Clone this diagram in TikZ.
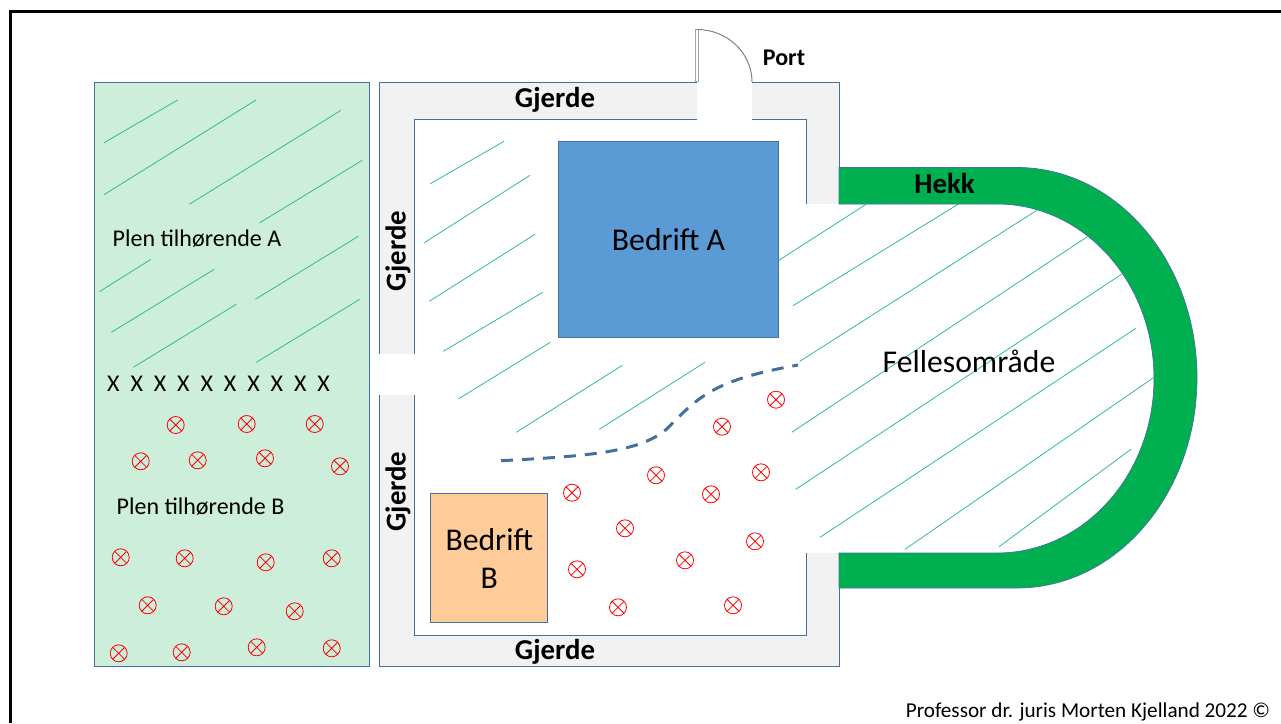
\documentclass[tikz,border=0pt]{standalone}
\usepackage{fontspec}
\setmainfont{Carlito}

\definecolor{kant}{HTML}{41719C}
\definecolor{plenfarge}{HTML}{CCEEDB}
\definecolor{gjerdefarge}{HTML}{F2F2F2}
\definecolor{hekkfarge}{HTML}{00B050}
\definecolor{bygga}{HTML}{5B9BD5}
\definecolor{byggb}{HTML}{FFCC99}
\definecolor{strek}{HTML}{2FC178}

\begin{document}
\begin{tikzpicture}
  [x=1pt,y=-1pt,
   stor/.style={font=\fontsize{31.7}{38}\selectfont,text=black,inner sep=0},
   liten/.style={font=\fontsize{24}{29}\selectfont,text=black,inner sep=0},
   fet/.style={font=\fontsize{28.8}{34}\selectfont\bfseries,text=black,inner sep=0},
   bygg/.style={stor,draw=kant,line width=.9pt,align=center},
   plen/.style={strek,line width=.8pt},
   tre/.style={circle,draw=red,line width=.8pt,minimum size=17pt,inner sep=0,
     path picture={\draw[red,line width=.8pt]
       (path picture bounding box.north west) -- (path picture bounding box.south east)
       (path picture bounding box.north east) -- (path picture bounding box.south west);}}]
  \useasboundingbox (0,0) rectangle (1281,723);

  % ramme
  \draw[black,line width=3pt] (1281,11.5) -- (10.5,11.5) -- (10.5,723);

  % plen
  \draw[kant,fill=plenfarge,line width=.9pt] (94.5,82.5) rectangle (369.5,666);

  % gjerde
  \draw[kant,fill=gjerdefarge,line width=.9pt] (379.5,82.5) rectangle (839,666.5);
  \draw[kant,fill=white,line width=.9pt] (414,119.5) rectangle (806,635);
  \fill[white] (378,354) rectangle (415,395);
  \fill[white] (697,81) rectangle (751.5,120.5);
  \fill[white] (805,204) rectangle (840,553);

  % port
  \draw[gray!70,fill=white,line width=1pt] (695.5,29.5) rectangle (698,81);
  \draw[gray,line width=1pt] (697,29.5) arc[start angle=-90,end angle=0,x radius=55,y radius=52.5];

  % hekk
  \draw[kant,fill=hekkfarge,line width=.7pt] (839,167.5) -- (1017,167.5)
    arc[start angle=-90,end angle=90,x radius=180,y radius=210.25]
    -- (839,588) -- (839,553) -- (997,553)
    arc[start angle=90,end angle=-90,x radius=157,y radius=174.5]
    -- (839,204) -- cycle;

  % gress, plen
  \draw[plen] (104,142.7) -- (177.7,100);
  \draw[plen] (104,194.7) -- (256,100);
  \draw[plen] (189.3,204.3) -- (341,110.3);
  \draw[plen] (259.3,223) -- (362.3,160.3);
  \draw[plen] (99.3,291.7) -- (151,259.3);
  \draw[plen] (111.3,332.3) -- (214.3,269.3);
  \draw[plen] (133.3,367.3) -- (236.3,304.3);
  \draw[plen] (255.3,299.3) -- (358.3,236.3);
  \draw[plen] (256.3,362.3) -- (359.7,299.3);

  % gress, innenfor gjerdet
  \draw[plen] (430.3,183.7) -- (504,141.3);
  \draw[plen] (424.3,242.7) -- (530,175.3);
  \draw[plen] (429.3,301.3) -- (535,234.3);
  \draw[plen] (443.3,351.3) -- (542.7,292.3);
  \draw[plen] (458.3,399) -- (550.3,342.3);
  \draw[plen] (516.3,432.3) -- (622.3,365.3);
  \draw[plen] (599.3,429.3) -- (705,362.3);

  % gress, fellesomraade
  \draw[plen] (778.3,260.7) -- (867,203.7);
  \draw[plen] (793,305.7) -- (959,203.7);
  \draw[plen] (799.7,361.3) -- (1037.3,210);
  \draw[plen] (791.7,432.3) -- (1087.3,236.7);
  \draw[plen] (795.7,489.3) -- (1122,274);
  \draw[plen] (820,537.3) -- (1136,328.3);
  \draw[plen] (905,549.3) -- (1154,377.3);
  \draw[plen] (999,546.7) -- (1131,449.3);

  % grense
  \draw[kant,line width=3pt,dash pattern=on 12pt off 9pt]
    (501,460.7) .. controls (590,456) and (640,452) .. (666.7,429)
    .. controls (700,395) and (715,380) .. (798,365);

  % bygg
  \node[bygg,fill=bygga,minimum width=220pt,minimum height=196pt] (a) at (668.5,239.5) {Bedrift A};
  \node[bygg,fill=byggb,minimum width=117pt,minimum height=129pt] (b) at (489.3,558) {Bedrift\\B};

  % tekst
  \node[liten] (plena) at (197,239) {Plen tilhørende A};
  \node[liten] (plenb) at (200.5,507) {Plen tilhørende B};
  \node[liten] (kryss) at (218.5,383.5) {X\hspace{10.9pt}X\hspace{10.9pt}X\hspace{10.9pt}X\hspace{10.9pt}X\hspace{10.9pt}X\hspace{10.9pt}X\hspace{10.9pt}X\hspace{10.9pt}X\hspace{10.9pt}X};
  \node[stor] (felles) at (969,361) {Fellesområde};
  \node[fet] (gjerde1) at (555,99.5) {Gjerde};
  \node[fet] (gjerde2) at (555,651.5) {Gjerde};
  \node[fet,rotate=90] (gjerde3) at (398,251) {Gjerde};
  \node[fet,rotate=90] (gjerde4) at (398,491.5) {Gjerde};
  \node[fet] (hekk) at (944.5,183.5) {Hekk};
  \node[font=\fontsize{24}{29}\selectfont\bfseries,inner sep=0] (port) at (784,58) {Port};
  \node[font=\fontsize{21.2}{25}\selectfont,inner sep=0] (prof) at (1088,711.5) {Professor dr. juris Morten Kjelland 2022 ©};

  % traer, plen
  \node[tre] (t1) at (175.7,425) {};
  \node[tre] (t2) at (246.7,424) {};
  \node[tre] (t3) at (314.7,424) {};
  \node[tre] (t4) at (140.7,461.3) {};
  \node[tre] (t5) at (197.7,460.3) {};
  \node[tre] (t6) at (265,458.3) {};
  \node[tre] (t7) at (340,466.3) {};
  \node[tre] (t8) at (120.7,557.3) {};
  \node[tre] (t9) at (184.7,558.3) {};
  \node[tre] (t10) at (265.7,562.3) {};
  \node[tre] (t11) at (331.7,558.3) {};
  \node[tre] (t12) at (147.7,605.3) {};
  \node[tre] (t13) at (223.7,606.3) {};
  \node[tre] (t14) at (294.7,611.3) {};
  \node[tre] (t15) at (118.7,653.3) {};
  \node[tre] (t16) at (181.7,652.3) {};
  \node[tre] (t17) at (256.7,647.3) {};
  \node[tre] (t18) at (331.7,648.3) {};

  % traer, innenfor gjerdet
  \node[tre] (t19) at (572,492.7) {};
  \node[tre] (t20) at (656,475.3) {};
  \node[tre] (t21) at (722,426.7) {};
  \node[tre] (t22) at (776,399.7) {};
  \node[tre] (t23) at (761,472.3) {};
  \node[tre] (t24) at (711,494.3) {};
  \node[tre] (t25) at (625,528.3) {};
  \node[tre] (t26) at (755,541.3) {};
  \node[tre] (t27) at (685,560.3) {};
  \node[tre] (t28) at (577,569.3) {};
  \node[tre] (t29) at (618,607.3) {};
  \node[tre] (t30) at (733,605.3) {};
\end{tikzpicture}
\end{document}
